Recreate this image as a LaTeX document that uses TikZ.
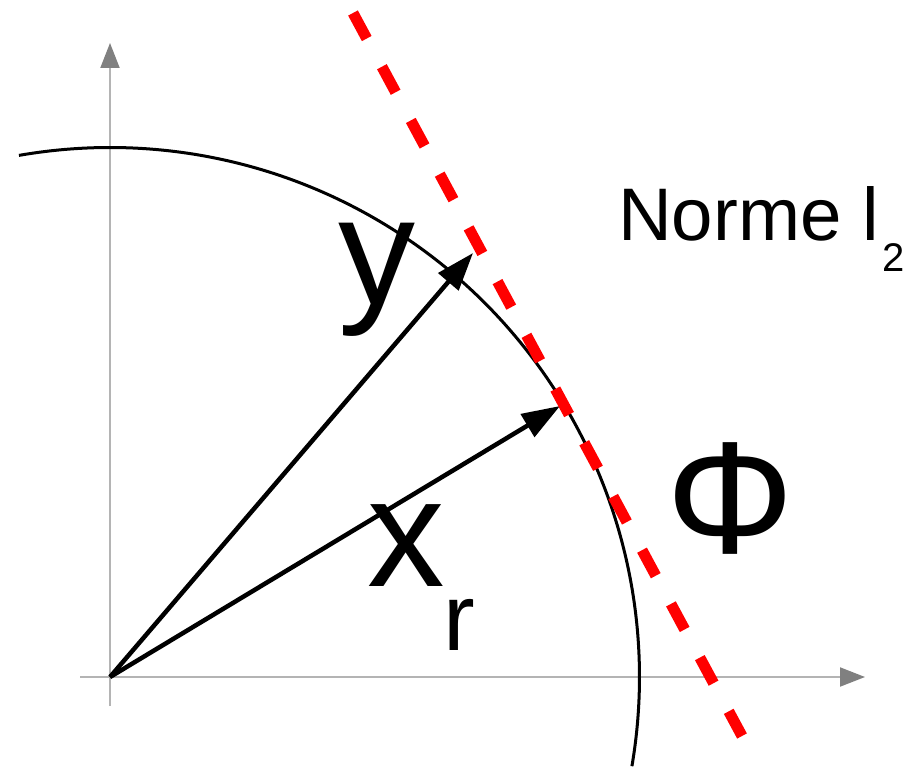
\documentclass[tikz,border=0pt]{standalone}
\usepackage{fontspec}
\setmainfont{Liberation Sans}
\usetikzlibrary{arrows.meta}
\definecolor{axisgray}{HTML}{B4B4B4}
\definecolor{tipgray}{HTML}{808080}
\definecolor{dashred}{HTML}{FF0000}
\tikzset{
  axisline/.style={draw=axisgray, line width=2pt, -{Triangle[length=25pt,width=19pt,color=tipgray]}},
  normcircle/.style={draw=black, line width=3pt},
  vecarrow/.style={draw=black, line width=4.5pt, -{Triangle[length=38pt,width=26pt]}},
  tangentline/.style={draw=dashred, line width=11pt, dash pattern=on 29pt off 32pt},
  lbl/.style={inner sep=0pt, outer sep=0pt, anchor=base west, text=black}
}
\begin{document}
\begin{tikzpicture}[x=1pt, y=-1pt]
\useasboundingbox (0,0) rectangle (921,768);
\coordinate (O) at (110,677);
\coordinate (xs) at (80,677);
\coordinate (xe) at (865,677);
\coordinate (ys) at (110,706);
\coordinate (ye) at (110,43);
\coordinate (Y) at (473,253);
\coordinate (X) at (560,406);
\coordinate (T1) at (353,13);
\coordinate (T2) at (742,736);
% axes
\draw[axisline] (xs) -- (xe);
\draw[axisline] (ys) -- (ye);
% circle (norm l2)
\draw[normcircle] (O) ++(-99.9:529.5) arc[start angle=-99.9, end angle=9.7, radius=529.5];
% vectors
\draw[vecarrow] (O) -- (Y);
\draw[vecarrow] (O) -- (X);
% tangent
\draw[tangentline] (T1) -- (T2);
% labels
\node[lbl, font=\fontsize{154}{160}\selectfont] (ylab) at (338,304.5) {y};
\node[lbl, font=\fontsize{155}{160}\selectfont] (xlab) at (367,586) {x};
\node[lbl, font=\fontsize{95}{100}\selectfont] (rlab) at (443,650) {r};
\node[lbl, font=\fontsize{74.5}{80}\selectfont] (norm) at (618,240) {Norme l};
\node[lbl, font=\fontsize{40}{44}\selectfont] (two) at (882,271.5) {2};
\node[inner sep=0pt, outer sep=0pt, anchor=base, font=\fontsize{160}{165}\selectfont] (phi) at (730.5,553) {Φ};
\end{tikzpicture}
\end{document}
